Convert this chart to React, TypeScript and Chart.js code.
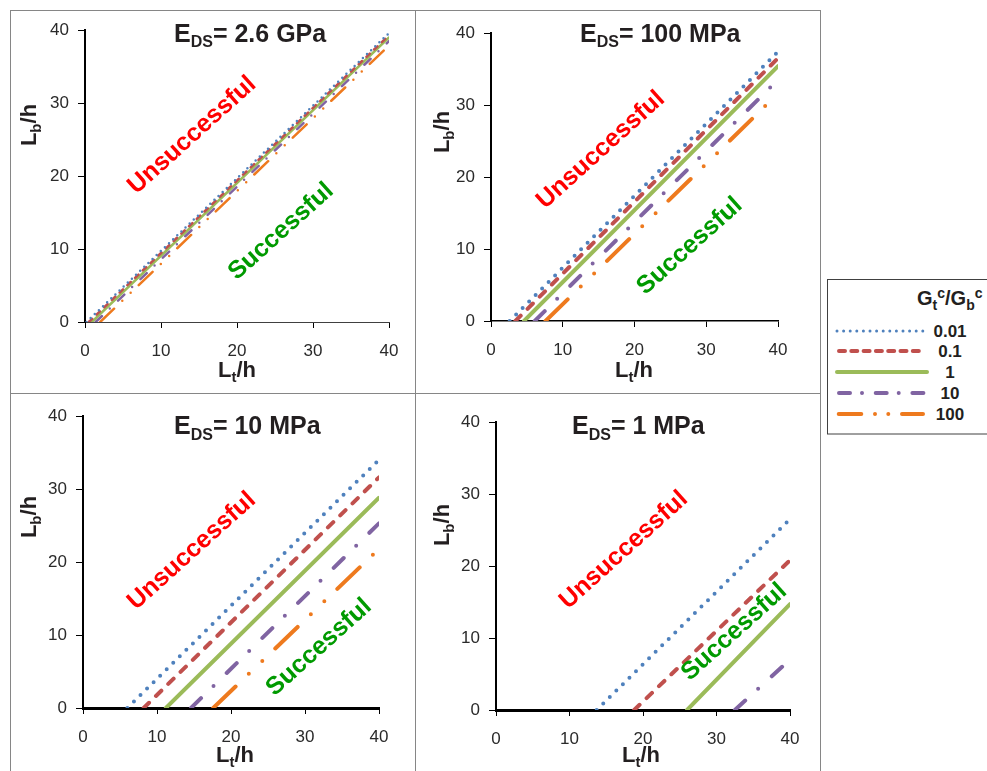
import React, { useEffect, useRef } from "react";
import { Chart, registerables } from "chart.js";

Chart.register(...registerables);

// ---------- data ----------
const ratioLabels = ["0.01", "0.1", "1", "10", "100"]; // Gtc/Gbc
const seriesColors = ["#4F81BD", "#C0504D", "#9BBB59", "#8064A2", "#EE7A1E"];
const axisTicks = [0, 10, 20, 30, 40];
const panelTitles = ["2.6 GPa", "100 MPa", "10 MPa", "1 MPa"];

// Lt/h where each boundary leaves Lb/h = 0, and Lb/h reached at Lt/h = 40
const xStart_2_6GPa = [0.2, 0.5, 0.9, 1.4, 2.0];
const yEnd_2_6GPa = [39.6, 39.3, 39.0, 38.5, 37.9];
const xStart_100MPa = [2.6, 3.4, 4.6, 6.1, 7.6];
const yEnd_100MPa = [37.4, 36.5, 35.4, 33.5, 31.6];
const xStart_10MPa = [6.0, 8.2, 11.2, 14.6, 17.6];
const yEnd_10MPa = [34.0, 31.6, 28.8, 25.3, 21.8];
const xStart_1MPa = [13.7, 18.8, 26.0, 32.5, null];
const yEnd_1MPa = [26.5, 20.8, 14.7, 7.0, null];
const xMax = 40;

// ---------- styles / layout ----------
const FONT = "'Liberation Sans', Arial, Helvetica, sans-serif";
const baseDash = [
  [0, 9.2],
  [7.5, 9.7],
  [],
  [14, 17.5, 0, 18.5],
  [31, 18.3, 0, 18.7, 0, 18],
];
const YW = 40;
const XH = 40;

type PanelCfg = {
  box: number[];
  area: number[];
  title: string;
  titlePos: number[];
  xTitle: number[];
  yTitle: number[];
  xBorderW: number;
  xBorderC: string;
  dashScale: number;
  lineW: number;
  starts: (number | null)[];
  ends: (number | null)[];
  unsucc: number[];
  succ: number[];
};

const panels: PanelCfg[] = [
  {
    box: [11, 11, 404, 382], area: [85, 389, 28, 322], title: panelTitles[0],
    titlePos: [174, 41.7], xTitle: [237, 377], yTitle: [28, 125],
    xBorderW: 1, xBorderC: "#404040", dashScale: 0.62, lineW: 2.5,
    starts: xStart_2_6GPa, ends: yEnd_2_6GPa, unsucc: [14.1, 25.6], succ: [25.8, 12.4],
  },
  {
    box: [416, 11, 404, 382], area: [491, 778, 33, 321], title: panelTitles[1],
    titlePos: [580, 41.7], xTitle: [634, 377], yTitle: [441, 132],
    xBorderW: 1.5, xBorderC: "#000", dashScale: 1, lineW: 4,
    starts: xStart_100MPa, ends: yEnd_100MPa, unsucc: [15.3, 23.75], succ: [27.7, 10.4],
  },
  {
    box: [11, 394, 404, 377], area: [83, 379, 416, 708], title: panelTitles[2],
    titlePos: [174, 434], xTitle: [235, 762], yTitle: [28, 517],
    xBorderW: 3, xBorderC: "#000", dashScale: 1, lineW: 4,
    starts: xStart_10MPa, ends: yEnd_10MPa, unsucc: [14.7, 21.5], succ: [31.9, 8.3],
  },
  {
    box: [416, 394, 404, 377], area: [496, 790, 422, 710], title: panelTitles[3],
    titlePos: [572, 434], xTitle: [641, 762], yTitle: [441, 525],
    xBorderW: 3, xBorderC: "#000", dashScale: 1, lineW: 4,
    starts: xStart_1MPa, ends: yEnd_1MPa, unsucc: [17.4, 22.2], succ: [32.4, 10.8],
  },
];

type Part = { text: string; size: number; dy?: number };

function drawRich(ctx: CanvasRenderingContext2D, parts: Part[], x: number, y: number, align: string) {
  let w = 0;
  const widths: number[] = [];
  for (const p of parts) {
    ctx.font = `bold ${p.size}px ${FONT}`;
    const m = ctx.measureText(p.text).width;
    widths.push(m);
    w += m;
  }
  let cx = align === "center" ? x - w / 2 : x;
  parts.forEach((p, i) => {
    ctx.font = `bold ${p.size}px ${FONT}`;
    ctx.fillText(p.text, cx, y + (p.dy || 0));
    cx += widths[i];
  });
}

function Panel({ p }: { p: PanelCfg }) {
  const ref = useRef<HTMLCanvasElement | null>(null);
  useEffect(() => {
    const [bx, by, bw, bh] = p.box;
    const left = p.area[0] - bx;
    const right = p.area[1] - bx;
    const top = p.area[2] - by;
    const bottom = p.area[3] - by;

    const datasets = ratioLabels.map((lab, i) => {
      const s = p.starts[i];
      const e = p.ends[i];
      const data = s === null || e === null ? [] : [{ x: s, y: 0 }, { x: xMax, y: e }];
      return {
        label: lab,
        data,
        borderColor: seriesColors[i],
        backgroundColor: seriesColors[i],
        borderWidth: p.lineW,
        borderDash: baseDash[i].map((v) => v * p.dashScale),
        borderCapStyle: "round" as const,
        pointRadius: 0,
        fill: false,
        tension: 0,
      };
    });

    const textPlugin = {
      id: "panelText",
      afterDraw(chart: any) {
        const ctx: CanvasRenderingContext2D = chart.ctx;
        ctx.save();
        ctx.textBaseline = "alphabetic";
        ctx.textAlign = "left";
        ctx.fillStyle = "#231F20";
        drawRich(
          ctx,
          [
            { text: "E", size: 25 },
            { text: "DS", size: 16, dy: 5.5 },
            { text: "= " + p.title, size: 25 },
          ],
          p.titlePos[0] - bx,
          p.titlePos[1] - by,
          "left"
        );
        drawRich(
          ctx,
          [
            { text: "L", size: 22 },
            { text: "t", size: 15, dy: 5 },
            { text: "/h", size: 22 },
          ],
          p.xTitle[0] - bx,
          p.xTitle[1] - by,
          "center"
        );
        ctx.save();
        ctx.translate(p.yTitle[0] - bx, p.yTitle[1] - by);
        ctx.rotate(-Math.PI / 2);
        drawRich(
          ctx,
          [
            { text: "L", size: 22 },
            { text: "b", size: 15, dy: 5 },
            { text: "/h", size: 22 },
          ],
          0,
          8,
          "center"
        );
        ctx.restore();
        const xs = chart.scales.x;
        const ys = chart.scales.y;
        const ann: [string, number[], string][] = [
          ["Unsuccessful", p.unsucc, "#FF0000"],
          ["Successful", p.succ, "#009A00"],
        ];
        for (const [txt, pos, col] of ann) {
          ctx.save();
          ctx.translate(xs.getPixelForValue(pos[0]), ys.getPixelForValue(pos[1]));
          ctx.rotate((-42 * Math.PI) / 180);
          ctx.fillStyle = col;
          ctx.font = `bold 25px ${FONT}`;
          ctx.textAlign = "center";
          ctx.textBaseline = "middle";
          ctx.fillText(txt, 0, 0);
          ctx.restore();
        }
        ctx.restore();
      },
    };

    const chart = new Chart(ref.current as HTMLCanvasElement, {
      type: "line",
      data: { datasets },
      options: {
        animation: false,
        responsive: false,
        devicePixelRatio: 1,
        layout: {
          padding: {
            left: left - YW,
            right: bw - right,
            top: top,
            bottom: bh - bottom - XH,
          },
        },
        plugins: {
          legend: { display: false },
          tooltip: { enabled: false },
          title: { display: false },
        },
        scales: {
          x: {
            type: "linear",
            min: 0,
            max: xMax,
            afterBuildTicks: (s: any) => {
              s.ticks = axisTicks.map((v) => ({ value: v }));
            },
            afterFit: (s: any) => {
              s.height = XH;
            },
            ticks: {
              font: { family: FONT, size: 17 },
              color: "#2a2a2a",
              padding: 13,
              maxRotation: 0,
            },
            grid: {
              drawOnChartArea: false,
              drawTicks: true,
              tickLength: 6,
              color: "#000",
              lineWidth: 1,
            },
            border: { display: true, color: p.xBorderC, width: p.xBorderW },
          },
          y: {
            type: "linear",
            min: 0,
            max: xMax,
            afterBuildTicks: (s: any) => {
              s.ticks = axisTicks.map((v) => ({ value: v }));
            },
            afterFit: (s: any) => {
              s.width = YW;
            },
            ticks: {
              font: { family: FONT, size: 17 },
              color: "#2a2a2a",
              padding: 9,
            },
            grid: {
              drawOnChartArea: false,
              drawTicks: true,
              tickLength: 7,
              color: "#000",
              lineWidth: 1,
            },
            border: { display: true, color: "#000", width: 2 },
          },
        },
      } as any,
      plugins: [textPlugin],
    });
    return () => chart.destroy();
  }, [p]);
  return (
    <canvas
      ref={ref}
      width={p.box[2]}
      height={p.box[3]}
      style={{ position: "absolute", left: p.box[0], top: p.box[1], width: p.box[2], height: p.box[3] }}
    />
  );
}

function Legend() {
  const rowsY = [61, 81, 102, 123, 144];
  const legendDash = ["0 6.6", "6 6.3", "", "11 12 0 13.7", "22.6 13.7 0 13.3 0 13.7 22"];
  const legendStart = [17, 19, 17, 19, 18.7];
  const legendEnd = [107, 105, 107, 105, 103];
  const legendW = [3, 4, 4, 4, 4];
  return (
    <svg
      width={167}
      height={170}
      style={{ position: "absolute", left: 820, top: 270 }}
      fontFamily={FONT}
    >
      <rect x={7.5} y={9.5} width={200} height={154.5} fill="#fff" stroke="#404040" strokeWidth={1} />
      <text x={97} y={35} fontSize={20} fontWeight="bold" fill="#231F20">
        G<tspan fontSize={14} dy={5}>t</tspan>
        <tspan fontSize={14} dy={-12}>c</tspan>
        <tspan fontSize={20} dy={7}>/G</tspan>
        <tspan fontSize={14} dy={5}>b</tspan>
        <tspan fontSize={14} dy={-12}>c</tspan>
      </text>
      {ratioLabels.map((lab, i) => (
        <g key={lab}>
          <line
            x1={legendStart[i]}
            x2={legendEnd[i]}
            y1={rowsY[i]}
            y2={rowsY[i]}
            stroke={seriesColors[i]}
            strokeWidth={legendW[i]}
            strokeLinecap="round"
            strokeDasharray={legendDash[i] || undefined}
          />
          <text x={130} y={rowsY[i] + 6} fontSize={17} fontWeight="bold" textAnchor="middle" fill="#231F20">
            {lab}
          </text>
        </g>
      ))}
    </svg>
  );
}

export default function App() {
  const borderColor = "#868686";
  const boxes = [
    [10, 10, 406, 384],
    [415, 10, 406, 384],
    [10, 393, 406, 390],
    [415, 393, 406, 390],
  ];
  return (
    <div
      style={{
        position: "absolute",
        left: 0,
        top: 0,
        width: 987,
        height: 771,
        overflow: "hidden",
        background: "#fff",
        fontFamily: FONT,
      }}
    >
      {boxes.map((b, i) => (
        <div
          key={i}
          style={{
            position: "absolute",
            left: b[0],
            top: b[1],
            width: b[2],
            height: b[3],
            boxSizing: "border-box",
            border: `1px solid ${borderColor}`,
          }}
        />
      ))}
      {panels.map((p, i) => (
        <Panel key={i} p={p} />
      ))}
      <Legend />
    </div>
  );
}
